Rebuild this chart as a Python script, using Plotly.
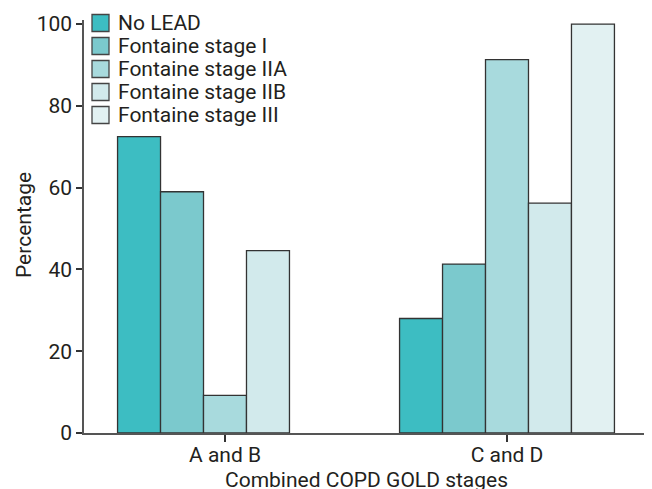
import plotly.graph_objects as go

categories = ["A and B", "C and D"]
series_names = ["No LEAD", "Fontaine stage I", "Fontaine stage IIA", "Fontaine stage IIB", "Fontaine stage III"]
no_lead = [72.5, 28.0]
stage_i = [59.0, 41.3]
stage_iia = [9.2, 91.3]
stage_iib = [44.6, 56.2]
stage_iii = [None, 100.0]
y_ticks = [0, 20, 40, 60, 80, 100]

colors = ["#3dbdc2", "#7bc9cd", "#a8dadd", "#d2eaec", "#e2f1f2"]
values = [no_lead, stage_i, stage_iia, stage_iib, stage_iii]

# page body has an 8px default margin: figure is drawn from (8, 8)
OFF = 8
W, H = 652 - OFF, 489 - OFF
ML, MR, MT, MB = 84 - OFF, 4, 20 - OFF, 56
PW, PH = W - ML - MR, H - MT - MB


def px_x(px):
    # px in window coordinates
    return (px - OFF - ML) / PW


def px_y(py):
    return (H - MB - (py - OFF)) / PH


font_family = "Roboto, 'DejaVu Sans', sans-serif"
text_color = "#231f20"
FS = 21

fig = go.Figure()
for name, vals, col in zip(series_names, values, colors):
    fig.add_trace(go.Bar(
        x=categories, y=vals, name=name, showlegend=False,
        marker=dict(color=col, line=dict(color="#333333", width=1.3)),
    ))

# manual legend (keys + labels)
shapes = []
annotations = []
for i, (name, col) in enumerate(zip(series_names, colors)):
    cy = 23 + 23 * i
    shapes.append(dict(type="rect", xref="paper", yref="paper",
                       x0=px_x(92), x1=px_x(109), y0=px_y(cy + 8.5), y1=px_y(cy - 8.5),
                       fillcolor=col, line=dict(color="#444444", width=1.3)))
    annotations.append(dict(text=name, xref="paper", yref="paper",
                            x=px_x(116), y=px_y(cy), xanchor="left", yanchor="middle",
                            showarrow=False, font=dict(size=FS, color=text_color)))

# axis titles
annotations.append(dict(text="Percentage", xref="paper", yref="paper",
                        x=px_x(24), y=px_y(225), textangle=-90,
                        xanchor="center", yanchor="middle", showarrow=False,
                        font=dict(size=FS, color=text_color)))
annotations.append(dict(text="Combined COPD GOLD stages", xref="paper", yref="paper",
                        x=px_x(366), y=px_y(480), xanchor="center", yanchor="middle",
                        showarrow=False, font=dict(size=FS, color=text_color)))

fig.update_layout(
    width=W, height=H,
    margin=dict(l=ML, r=MR, t=MT, b=MB),
    plot_bgcolor="white", paper_bgcolor="white",
    barmode="group", bargap=0.238, bargroupgap=0,
    font=dict(family=font_family, size=FS, color=text_color),
    showlegend=False,
    shapes=shapes,
    annotations=annotations,
)
fig.update_xaxes(
    range=[-0.5, 1.5], showline=True, linecolor="#555555", linewidth=1.5,
    ticks="outside", ticklen=7, tickcolor="#333333", tickwidth=1.5,
    ticklabelstandoff=-5,
    tickfont=dict(size=FS), showgrid=False, automargin=False,
)
fig.update_yaxes(
    range=[0, 101], tickvals=y_ticks, showline=True, linecolor="#555555", linewidth=1.5,
    ticks="outside", ticklen=6, tickcolor="#333333", tickwidth=1.5,
    tickfont=dict(size=FS), showgrid=False, zeroline=False, automargin=False,
)

fig.write_html("out.html")
